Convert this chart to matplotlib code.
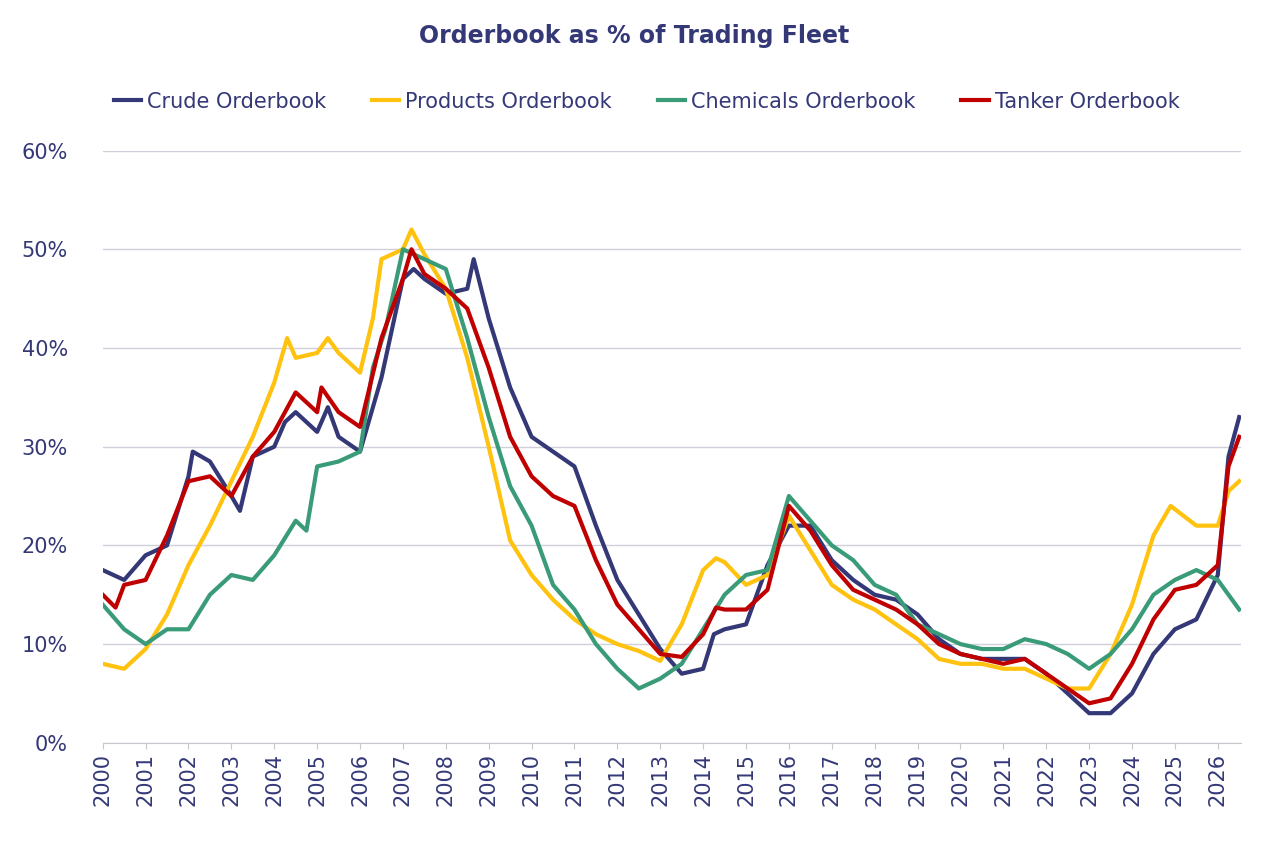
import matplotlib
matplotlib.use("Agg")
import matplotlib.pyplot as plt

crude_t = [2000,2000.5,2001,2001.5,2002,2002.1,2002.5,2003,2003.2,2003.5,2004,2004.25,2004.5,2005,2005.25,2005.5,2006,2006.5,2007,2007.25,2007.5,2008,2008.5,2008.65,2009,2009.5,2010,2010.5,2011,2011.5,2012,2012.5,2013,2013.5,2014,2014.25,2014.5,2015,2015.5,2016,2016.5,2017,2017.5,2018,2018.5,2019,2019.5,2020,2020.5,2021,2021.5,2022,2022.5,2023,2023.5,2024,2024.5,2025,2025.5,2026,2026.25,2026.5]
crude_v = [17.5,16.5,19,20,27,29.5,28.5,25,23.5,29,30,32.5,33.5,31.5,34,31,29.5,37,47,48,47,45.5,46,49,43,36,31,29.5,28,22,16.5,13,9.5,7,7.5,11,11.5,12,18,22,22,18.5,16.5,15,14.5,13,10.5,9,8.5,8.5,8.5,7,5,3,3,5,9,11.5,12.5,17,29,33]

prod_t = [2000,2000.5,2001,2001.5,2002,2002.5,2003,2003.5,2004,2004.3,2004.5,2005,2005.25,2005.5,2006,2006.3,2006.5,2007,2007.2,2007.5,2008,2008.5,2009,2009.5,2010,2010.5,2011,2011.5,2012,2012.5,2013,2013.5,2014,2014.3,2014.5,2015,2015.5,2016,2016.5,2017,2017.5,2018,2018.5,2019,2019.5,2020,2020.5,2021,2021.5,2022,2022.5,2023,2023.5,2024,2024.5,2024.9,2025.5,2026,2026.25,2026.5]
prod_v = [8,7.5,9.5,13,18,22,26.5,31,36.5,41,39,39.5,41,39.5,37.5,43,49,50,52,49.5,46,39,30,20.5,17,14.5,12.5,11,10,9.3,8.3,12,17.5,18.7,18.3,16,17,23,19.5,16,14.5,13.5,12,10.5,8.5,8,8,7.5,7.5,6.5,5.5,5.5,9,14,21,24,22,22,25.5,26.5]

chem_t = [2000,2000.5,2001,2001.5,2002,2002.5,2003,2003.5,2004,2004.5,2004.75,2005,2005.5,2006,2006.3,2006.6,2007,2007.5,2008,2008.5,2009,2009.5,2010,2010.5,2011,2011.5,2012,2012.5,2013,2013.5,2014,2014.5,2015,2015.5,2016,2016.5,2017,2017.5,2018,2018.5,2019,2019.5,2020,2020.5,2021,2021.5,2022,2022.5,2023,2023.5,2024,2024.5,2025,2025.5,2026,2026.25,2026.5]
chem_v = [14,11.5,10,11.5,11.5,15,17,16.5,19,22.5,21.5,28,28.5,29.5,38,42,50,49,48,41,33,26,22,16,13.5,10,7.5,5.5,6.5,8,11.5,15,17,17.5,25,22.5,20,18.5,16,15,12,11,10,9.5,9.5,10.5,10,9,7.5,9,11.5,15,16.5,17.5,16.5,15,13.5]

tank_t = [2000,2000.3,2000.5,2001,2001.5,2002,2002.5,2003,2003.5,2004,2004.5,2005,2005.1,2005.5,2006,2006.5,2007,2007.2,2007.5,2008,2008.5,2009,2009.5,2010,2010.5,2011,2011.5,2012,2012.5,2013,2013.5,2014,2014.3,2014.5,2015,2015.5,2016,2016.5,2017,2017.5,2018,2018.5,2019,2019.5,2020,2020.5,2021,2021.5,2022,2022.5,2023,2023.5,2024,2024.5,2025,2025.5,2026,2026.25,2026.5]
tank_v = [15,13.7,16,16.5,21,26.5,27,25,29,31.5,35.5,33.5,36,33.5,32,41,47,50,47.5,46,44,38,31,27,25,24,18.5,14,11.5,9,8.7,11,13.7,13.5,13.5,15.5,24,21.5,18,15.5,14.5,13.5,12,10,9,8.5,8,8.5,7,5.5,4,4.5,8,12.5,15.5,16,18,28,31]

navy = "#343877"
fig = plt.figure(figsize=(12.68, 8.46), dpi=100)
ax = fig.add_axes([0.081, 0.122, 0.898, 0.70])
ax.plot(crude_t, crude_v, color=navy, lw=3, label="Crude Orderbook")
ax.plot(prod_t, prod_v, color="#FFC20E", lw=3, label="Products Orderbook")
ax.plot(chem_t, chem_v, color="#3A9B78", lw=3, label="Chemicals Orderbook")
ax.plot(tank_t, tank_v, color="#C00000", lw=3, label="Tanker Orderbook")

ax.set_xlim(2000, 2026.55)
ax.set_ylim(0, 60)
ax.set_yticks(range(0, 61, 10))
ax.set_yticklabels([f"{v}%" for v in range(0, 61, 10)], color=navy, fontsize=15)
ax.set_xticks(range(2000, 2027))
ax.set_xticklabels([str(y) for y in range(2000, 2027)], rotation=90, color=navy, fontsize=15)
ax.grid(axis="y", color="#D0D0DC", lw=1)
ax.set_axisbelow(True)
for s in ["top", "right", "left"]:
    ax.spines[s].set_visible(False)
ax.spines["bottom"].set_color("#C8C8D0")
ax.tick_params(axis="y", length=0, pad=25)
ax.tick_params(axis="x", length=4, color="#C8C8D0")

fig.text(0.5, 0.958, "Orderbook as % of Trading Fleet", ha="center", va="center",
         fontsize=17, fontweight="bold", color=navy)
leg = fig.legend(loc="center", bbox_to_anchor=(0.51, 0.88), ncol=4, frameon=False,
                 fontsize=15, handlelength=1.3, columnspacing=2.2, handletextpad=0.3)
for t in leg.get_texts():
    t.set_color(navy)
fig.savefig("out.png", dpi=100)
